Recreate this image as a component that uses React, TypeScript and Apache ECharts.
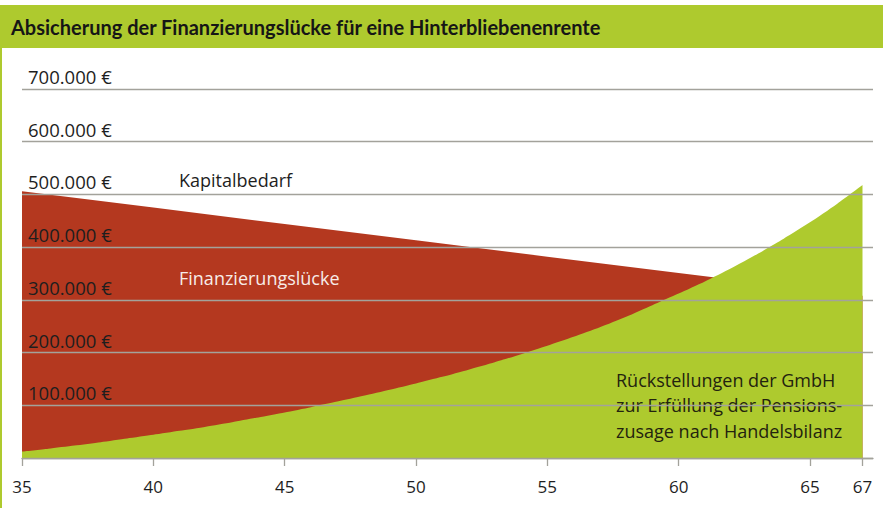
import React, { useEffect, useRef } from "react";
import * as echarts from "echarts";

const titleText = "Absicherung der Finanzierungslücke für eine Hinterbliebenenrente";

const xTicks = [35, 40, 45, 50, 55, 60, 65, 67];

const yTickValues = [100000, 200000, 300000, 400000, 500000, 600000, 700000];
const yTickLabels = ["100.000 €", "200.000 €", "300.000 €", "400.000 €", "500.000 €", "600.000 €", "700.000 €"];

// Kapitalbedarf (upper edge of the red area)
const bedarfYears = [35, 40, 45, 50, 55, 60, 65, 67];
const bedarfValues = [506000, 475000, 444000, 413000, 382000, 351000, 320000, 308000];

// Rückstellungen der GmbH (green area)
const rueckYears = [35, 36, 37, 38, 39, 40, 41, 42, 43, 44, 45, 46, 47, 48, 49, 50, 51, 52, 53, 54, 55, 56, 57, 58, 59, 60, 61, 62, 63, 64, 65, 66, 67];
const rueckValues = [12000, 17500, 23500, 30000, 37000, 44000, 51500, 59500, 68000, 77000, 86500, 96500, 107000, 118000, 129500, 141500, 154000, 167500, 181500, 197000, 213000, 230000, 248000, 268000, 290000, 312000, 335000, 360000, 387000, 416000, 447000, 481000, 518000];

const GREEN = "#aeca2e";
const RED = "#b4381f";
const GRID = "#a3a29b";
const FONT = "'Open Sans', sans-serif";

export default function App() {
  const ref = useRef<HTMLDivElement>(null);

  useEffect(() => {
    document.body.style.margin = "0";
    if (!ref.current) return;
    const chart = echarts.init(ref.current, null, { renderer: "svg" });
    const option: any = {
      animation: false,
      backgroundColor: "#ffffff",
      grid: { left: 22, right: 10, top: 89, bottom: 50 },
      xAxis: {
        type: "value",
        min: 35,
        max: 67.4,
        axisLine: { show: true, lineStyle: { color: GRID, width: 1.3 } },
        axisTick: { show: true, customValues: xTicks, length: 8, lineStyle: { color: GRID, width: 1.3 } },
        axisLabel: {
          customValues: xTicks,
          color: "#1e1e1e",
          fontFamily: FONT,
          fontSize: 17,
          margin: 20,
        },
        splitLine: { show: false },
      },
      yAxis: {
        type: "value",
        min: 0,
        max: 700000,
        interval: 100000,
        z: 5,
        axisLine: { show: false },
        axisTick: { show: false },
        splitLine: { show: true, lineStyle: { color: GRID, width: 1.3 } },
        axisLabel: {
          inside: true,
          margin: 6,
          align: "left",
          verticalAlign: "bottom",
          padding: [0, 0, 3, 0],
          color: "#1e1e1e",
          fontFamily: FONT,
          fontSize: 18.5,
          formatter: (v: number) => {
            const i = yTickValues.indexOf(v);
            return i >= 0 ? yTickLabels[i] : "";
          },
        },
      },
      series: [
        {
          name: "Kapitalbedarf",
          type: "line",
          data: bedarfYears.map((y, i) => [y, bedarfValues[i]]),
          symbol: "none",
          lineStyle: { width: 0 },
          areaStyle: { color: RED, opacity: 1 },
        },
        {
          name: "Rückstellungen",
          type: "line",
          data: rueckYears.map((y, i) => [y, rueckValues[i]]),
          symbol: "none",
          smooth: 0.2,
          lineStyle: { width: 0 },
          areaStyle: { color: GREEN, opacity: 1 },
        },
      ],
      graphic: [
        { type: "rect", shape: { x: 0, y: 5, width: 883, height: 43 }, style: { fill: GREEN }, z: 10 },
        { type: "rect", shape: { x: 0, y: 48, width: 2, height: 460 }, style: { fill: GREEN }, z: 10 },
        {
          type: "text",
          x: 11,
          y: 27,
          z: 11,
          style: {
            text: titleText,
            fill: "#161616",
            font: "bold 20px Lato, sans-serif",
            verticalAlign: "middle",
          },
        },
        {
          type: "text",
          x: 179,
          y: 180,
          z: 11,
          style: { text: "Kapitalbedarf", fill: "#1e1e1e", font: "18px " + FONT, verticalAlign: "middle" },
        },
        {
          type: "text",
          x: 179,
          y: 278,
          z: 11,
          style: { text: "Finanzierungslücke", fill: "#f7ece8", font: "18px " + FONT, verticalAlign: "middle" },
        },
        {
          type: "text",
          x: 616,
          y: 367,
          z: 4,
          style: {
            text: "Rückstellungen der GmbH\nzur Erfüllung der Pensions-\nzusage nach Handelsbilanz",
            fill: "#23230f",
            font: "18px " + FONT,
            lineHeight: 25.5,
            verticalAlign: "top",
          },
        },
      ],
    };
    chart.setOption(option);
    return () => chart.dispose();
  }, []);

  return <div ref={ref} style={{ width: 883, height: 508 }} />;
}
